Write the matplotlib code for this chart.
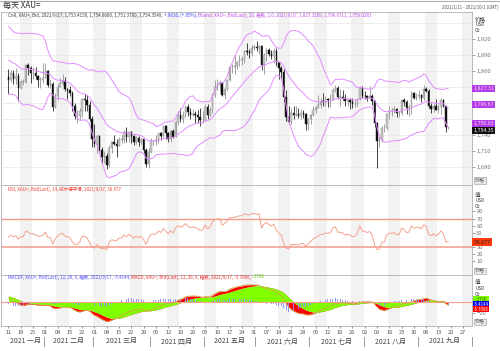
import numpy as np
import pandas as pd
import matplotlib
matplotlib.use('Agg')
import matplotlib.pyplot as plt
from matplotlib.transforms import blended_transform_factory as btf
from matplotlib.lines import Line2D

plt.rcParams['font.family'] = ['Noto Sans CJK SC', 'DejaVu Sans']

# ---------------- data (daily spot gold, XAU=) ----------------
# closes before the visible window (2020-11-02 .. 2021-01-08), used to seed the indicators
warmup_closes = [1895, 1908, 1904, 1948, 1951, 1862, 1877, 1866, 1873, 1888,
                 1887, 1878, 1871, 1866, 1871, 1837, 1805, 1809, 1811, 1788,
                 1776, 1815, 1830, 1841, 1839, 1862, 1871, 1839, 1836, 1839,
                 1827, 1854, 1861, 1886, 1881, 1873, 1862, 1871, 1876, 1877,
                 1878, 1893, 1895, 1943, 1950, 1918, 1913, 1849]

first_day = '2021-01-11'
last_axis_day = '2021-10-01'

opens = [1849, 1844, 1856, 1845, 1851, 1828, 1840, 1840, 1871, 1865,
         1856, 1856, 1850, 1843, 1844, 1847, 1860, 1834, 1835, 1793,
         1814, 1831, 1838, 1842, 1826, 1824, 1819, 1794, 1775, 1775,
         1784, 1808, 1806, 1797, 1770, 1733, 1723, 1737, 1711, 1698,
         1700, 1683, 1716, 1726, 1722, 1719, 1731, 1731, 1745, 1735,
         1745, 1738, 1726, 1734, 1726, 1732, 1712, 1685, 1708, 1728,
         1729, 1729, 1743, 1737, 1756, 1744, 1732, 1747, 1736, 1764,
         1777, 1770, 1778, 1793, 1783, 1777, 1780, 1778, 1773, 1768,
         1768, 1792, 1778, 1786, 1815, 1831, 1836, 1837, 1815, 1826,
         1843, 1867, 1868, 1870, 1877, 1881, 1882, 1898, 1896, 1895,
         1903, 1905, 1903, 1908, 1871, 1891, 1899, 1893, 1888, 1898,
         1877, 1866, 1858, 1812, 1773, 1764, 1782, 1778, 1779, 1776,
         1781, 1780, 1761, 1770, 1777, 1787, 1791, 1796, 1803, 1802,
         1808, 1805, 1808, 1824, 1829, 1812, 1812, 1810, 1803, 1806,
         1802, 1798, 1799, 1807, 1829, 1814, 1813, 1810, 1813, 1804,
         1763, 1729, 1731, 1752, 1753, 1779, 1786, 1787, 1788, 1781,
         1781, 1806, 1802, 1790, 1792, 1818, 1810, 1814, 1815, 1810,
         1827, 1823, 1795, 1788, 1795, 1787, 1793, 1805, 1794, 1753.42]

highs = [1864, 1863, 1862, 1865, 1857, 1843, 1846, 1873, 1875, 1870,
         1867, 1868, 1852, 1849, 1875, 1875, 1862, 1845, 1840, 1818,
         1836, 1848, 1855, 1849, 1829, 1832, 1822, 1800, 1787, 1790,
         1810, 1816, 1815, 1804, 1775, 1760, 1740, 1739, 1718, 1709,
         1705, 1720, 1728, 1739, 1732, 1735, 1740, 1750, 1755, 1747,
         1747, 1740, 1738, 1738, 1734, 1733, 1715, 1716, 1734, 1731,
         1739, 1744, 1746, 1759, 1758, 1746, 1749, 1751, 1766, 1784,
         1790, 1785, 1797, 1798, 1790, 1789, 1785, 1786, 1790, 1785,
         1799, 1798, 1792, 1818, 1843, 1845, 1843, 1840, 1829, 1845,
         1869, 1874, 1890, 1880, 1890, 1889, 1900, 1913, 1902, 1909,
         1911, 1916, 1910, 1909, 1895, 1903, 1904, 1900, 1903, 1903,
         1878, 1870, 1864, 1824, 1795, 1790, 1794, 1795, 1790, 1789,
         1787, 1781, 1772, 1779, 1795, 1795, 1815, 1809, 1818, 1814,
         1810, 1816, 1829, 1834, 1832, 1826, 1825, 1816, 1808, 1810,
         1810, 1806, 1810, 1832, 1832, 1823, 1815, 1832, 1816, 1805,
         1765, 1742, 1756, 1760, 1781, 1795, 1790, 1794, 1790, 1785,
         1808, 1809, 1805, 1799, 1823, 1821, 1819, 1824, 1817, 1834,
         1831, 1827, 1800, 1800, 1808, 1797, 1809, 1808, 1795, 1754.66]

lows = [1817, 1840, 1836, 1835, 1803, 1827, 1833, 1837, 1852, 1837,
        1846, 1845, 1831, 1829, 1837, 1847, 1830, 1829, 1785, 1791,
        1806, 1830, 1834, 1822, 1808, 1814, 1784, 1770, 1763, 1770,
        1774, 1785, 1785, 1766, 1717, 1718, 1705, 1709, 1687, 1687,
        1676, 1680, 1705, 1720, 1699, 1719, 1724, 1724, 1726, 1727,
        1725, 1721, 1723, 1719, 1722, 1705, 1680, 1677, 1706, 1720,
        1721, 1724, 1731, 1735, 1732, 1726, 1727, 1734, 1735, 1758,
        1765, 1762, 1773, 1776, 1769, 1775, 1762, 1763, 1757, 1763,
        1766, 1770, 1775, 1782, 1812, 1825, 1822, 1813, 1808, 1823,
        1841, 1857, 1855, 1864, 1869, 1872, 1876, 1891, 1884, 1888,
        1900, 1897, 1893, 1863, 1855, 1880, 1888, 1883, 1876, 1870,
        1845, 1847, 1802, 1767, 1761, 1760, 1770, 1775, 1772, 1770,
        1772, 1750, 1750, 1760, 1775, 1782, 1790, 1791, 1794, 1795,
        1792, 1793, 1805, 1820, 1808, 1794, 1806, 1795, 1794, 1789,
        1791, 1792, 1794, 1806, 1810, 1807, 1804, 1809, 1797, 1754,
        1677, 1718, 1726, 1745, 1750, 1769, 1775, 1781, 1774, 1773,
        1778, 1795, 1780, 1776, 1780, 1807, 1805, 1808, 1802, 1805,
        1821, 1791, 1782, 1783, 1786, 1781, 1780, 1792, 1745, 1751.37]

closes = [1844, 1856, 1845, 1851, 1828, 1840, 1840, 1871, 1865, 1856,
          1856, 1850, 1843, 1844, 1847, 1860, 1834, 1835, 1793, 1814,
          1831, 1838, 1842, 1826, 1824, 1819, 1794, 1775, 1775, 1784,
          1808, 1806, 1797, 1770, 1733, 1723, 1737, 1711, 1698, 1700,
          1683, 1716, 1726, 1722, 1719, 1731, 1731, 1745, 1735, 1745,
          1738, 1726, 1734, 1726, 1732, 1712, 1685, 1708, 1728, 1729,
          1729, 1743, 1737, 1756, 1744, 1732, 1747, 1736, 1764, 1777,
          1770, 1778, 1793, 1783, 1777, 1780, 1778, 1773, 1768, 1768,
          1792, 1778, 1786, 1815, 1831, 1836, 1837, 1815, 1826, 1843,
          1867, 1868, 1870, 1877, 1881, 1882, 1898, 1896, 1895, 1903,
          1905, 1903, 1908, 1871, 1891, 1899, 1893, 1888, 1898, 1877,
          1866, 1858, 1812, 1773, 1764, 1782, 1778, 1779, 1776, 1781,
          1780, 1761, 1770, 1777, 1787, 1791, 1796, 1803, 1802, 1808,
          1805, 1808, 1824, 1829, 1812, 1812, 1810, 1803, 1806, 1802,
          1798, 1799, 1807, 1829, 1814, 1813, 1810, 1813, 1804, 1763,
          1729, 1731, 1752, 1753, 1779, 1786, 1787, 1788, 1781, 1781,
          1806, 1802, 1790, 1792, 1818, 1810, 1814, 1815, 1810, 1827,
          1823, 1795, 1788, 1795, 1787, 1793, 1805, 1794, 1754, 1754.35]

# last values as printed on the chart's labels
bband_last = [1827.3109, 1796.6711, 1756.0283]
close_last = 1754.3549
rsi_last = 36.677
macd_last = [-0.3790, -5.4144, -5.7066]   # signal, MACDF, MACD

price_ticks = [1680, 1710, 1740, 1800, 1860, 1890, 1920]
rsi_ticks = [10, 20, 30, 40, 50, 60, 70, 80]
macd_ticks = [-20]
month_names = ['一月', '二月', '三月', '四月', '五月', '六月', '七月', '八月', '九月']

price_header = [("Cn8, XAU=, Bid, 2021/9/17, 1,753.4150, 1,754.6600, 1,751.3700, 1,754.3549, ", '#404040'),
                ("+.9616, (+.05%), ", '#3c3cff'),
                ("Bband, XAU=, Bid(Last), 20, 指数, 2.0, 2021/9/17, 1,827.3109, 1,796.6711, 1,756.0283", '#c048f0')]
rsi_header = [("RSI, XAU=, Bid(Last), 14, 威尔德平滑, 2021/9/17, 36.677", '#f04030')]
macd_header = [("MACDF, XAU=, Bid(Last), 12, 26, 9, 指数, 2021/9/17, -5.4144, ", '#5050ff'),
               ("MACD, XAU=, Bid(Last), 12, 26, 9, 指数, 2021/9/17, -5.7066, ", '#f03030'),
               ("-.3790", '#60d000')]

# ---------------- indicators ----------------
n = len(closes)
dates = pd.bdate_range(first_day, last_axis_day)
idx = np.arange(n)
allc = pd.Series(warmup_closes + closes, dtype=float)
mid = allc.ewm(span=20, adjust=False).mean()
sd = allc.rolling(20).std(ddof=0)
upper = (mid + 2 * sd).values[-n:]
lower = (mid - 2 * sd).values[-n:]
mid = mid.values[-n:]

delta = allc.diff()
gain = delta.clip(lower=0).ewm(alpha=1 / 14, adjust=False).mean()
loss = (-delta.clip(upper=0)).ewm(alpha=1 / 14, adjust=False).mean()
rsi = (100 - 100 / (1 + gain / loss)).values[-n:]

ema12 = allc.ewm(span=12, adjust=False).mean()
ema26 = allc.ewm(span=26, adjust=False).mean()
macd_s = ema12 - ema26
sig_s = macd_s.ewm(span=9, adjust=False).mean()
macd = macd_s.values[-n:]
sig = sig_s.values[-n:]
hist = macd - sig

# ---------------- figure ----------------
W, H = 500, 351
fig = plt.figure(figsize=(W / 100, H / 100), dpi=100)
fig.patch.set_facecolor('white')


def fx(px):
    return px / W


def fy(py):
    return 1 - py / H


L, R = 1, 472
ax1 = fig.add_axes([fx(L), fy(185), (R - L) / W, (185 - 12) / H])
ax2 = fig.add_axes([fx(L), fy(275), (R - L) / W, (275 - 185) / H])
ax3 = fig.add_axes([fx(L), fy(326), (R - L) / W, (326 - 275) / H])
xlim = (-3.05, 188.65)

for ax in (ax1, ax2, ax3):
    ax.set_xlim(*xlim)
    for k in range(0, 38):
        if k % 3 == 1:
            ax.axvspan(5 * k - 0.5, 5 * k + 4.5, color='#f2f2f2', lw=0, zorder=0)
    for s in ax.spines.values():
        s.set_color('#b0b0b0')
        s.set_linewidth(0.6)
    ax.yaxis.tick_right()
    ax.tick_params(axis='y', length=2.5, width=0.5, colors='#777777', labelsize=4.2, pad=0.6)
    ax.tick_params(axis='x', length=0)
    ax.set_xticks([])

# --- price panel ---
ax1.set_ylim(1645.5, 1971.4)
for p in range(1680, 1960, 30):
    ax1.axhline(p, color='#e6e6e6', lw=0.5, zorder=0.5)
o = np.array(opens); c = np.array(closes); h = np.array(highs); lo = np.array(lows)
up = c >= o
ax1.vlines(idx[up], lo[up], h[up], color='#8a8a8a', lw=0.55, zorder=2)
ax1.vlines(idx[~up], lo[~up], h[~up], color='#111111', lw=0.55, zorder=2)
bh = np.maximum(np.abs(c - o), 0.8)
ax1.bar(idx[up], bh[up], bottom=np.minimum(o, c)[up], width=0.62, color='#c8c8c8',
        edgecolor='#8a8a8a', linewidth=0.3, zorder=3)
ax1.bar(idx[~up], bh[~up], bottom=np.minimum(o, c)[~up], width=0.62, color='#111111',
        edgecolor='#111111', linewidth=0.3, zorder=3)
for band in (upper, mid, lower):
    ax1.plot(idx, band, color='#e08cff', lw=0.7, zorder=4)
ax1.set_yticks(price_ticks)
ax1.set_yticklabels([f'{t:,}' for t in price_ticks])

# --- RSI panel ---
ax2.set_ylim(-10.1, 117.5)
ax2.axhline(70, color='#f39a88', lw=1.0, zorder=2)
ax2.axhline(30, color='#f39a88', lw=1.1, zorder=2)
ax2.plot(idx, rsi, color='#f4a28e', lw=0.7, zorder=3)
ax2.set_yticks(rsi_ticks)

# --- MACD panel ---
ax3.set_ylim(-44.9, 50.5)
ax3.fill_between(idx, macd, sig, color='#ff0000', lw=0, zorder=1)
ax3.fill_between(idx, 0, sig, color='#80ff00', lw=0, zorder=2)
ax3.bar(idx, hist, width=0.35, color='#8c8cff', lw=0, zorder=3, alpha=0.9)
ax3.axhline(0, color='#f4a08a', lw=0.8, zorder=4)
ax3.plot(idx, macd, color='#d8a048', lw=0.6, zorder=5)
ax3.set_yticks(macd_ticks)

# x axis labels
mondays = [i for i, d in enumerate(dates) if d.weekday() == 0]
ax3.set_xticks(mondays)
ax3.set_xticklabels([dates[i].strftime('%d') for i in mondays])
ax3.tick_params(axis='x', length=1.5, width=0.5, colors='#555555', labelsize=4.1, pad=1.3)

tr = btf(ax3.transData, fig.transFigure)
months = dates.month
for m in range(1, 10):
    pos = np.where(months == m)[0]
    ax3.text((pos[0] + pos[-1]) / 2, fy(341), f'2021 {month_names[m - 1]}', transform=tr,
             ha='center', va='center', fontsize=5.0, color='#444444')
for m in range(2, 11):
    pos = np.where(months == m)[0]
    xb = pos[0] - 0.5
    fig.add_artist(Line2D([xb, xb], [fy(336.5), fy(345.5)], transform=tr, color='#888888', lw=0.6))

# ---------------- texts ----------------
fig.add_artist(Line2D([0, 1], [fy(0.6), fy(0.6)], color='#b0b0b0', lw=0.8))
fig.text(fx(3), fy(5.5), '每天 XAU=', fontsize=5.8, va='center', ha='left', color='#333333')
fig.text(fx(499), fy(7), '2021/1/11 - 2021/10/1 (GMT)', fontsize=3.1, va='center', ha='right', color='#555555')

renderer = fig.canvas.get_renderer()


def header(segs, x0, y0, fs):
    x = x0
    for s, col in segs:
        t = fig.text(fx(x), fy(y0), s, fontsize=fs, color=col, va='center', ha='left')
        x += t.get_window_extent(renderer).width


header(price_header, 8, 15, 3.25)
header(rsi_header, 8, 189, 3.25)
header(macd_header, 8, 277, 3.25)

for (ytop, first) in ((19, '价格'), (195, '值'), (282.5, '值')):
    fig.text(fx(475), fy(ytop), first, fontsize=4.0, ha='left', va='center', color='#333333')
    fig.text(fx(475), fy(ytop + 6.0), 'USD', fontsize=3.3, ha='left', va='center', color='#333333')
    fig.text(fx(475), fy(ytop + 11.6), 'Oz', fontsize=3.3, ha='left', va='center', color='#333333')
for yb in (180.5, 271, 322):
    fig.text(fx(475), fy(yb), '价格', fontsize=3.6, ha='left', va='center', color='#555555',
             bbox=dict(boxstyle='square,pad=0.15', fc='#e8e8e8', ec='#999999', lw=0.4))


def value_boxes(ax, items, gap=6.8, fs=3.8, pad=0.2):
    # items: (value, text, face, textcolor); spread to avoid overlap
    ys = []
    for v, *_ in items:
        _, ypx = ax.transData.transform((0, v))
        ys.append(H - ypx)
    order = np.argsort(ys)
    pos = np.array(ys, dtype=float)[order]
    for _ in range(60):
        for j in range(1, len(pos)):
            d = pos[j] - pos[j - 1]
            if d < gap:
                shift = (gap - d) / 2
                pos[j - 1] -= shift
                pos[j] += shift
    for k, j in enumerate(order):
        v, txt, fc, tc = items[j]
        fig.text(fx(473.5), fy(pos[k]), txt, fontsize=fs, ha='left', va='center', color=tc,
                 bbox=dict(boxstyle=f'square,pad={pad}', fc=fc, ec='none'))


value_boxes(ax1, [(bband_last[0], '1,827.31', '#b43ce6', '#f0d8ff'),
                  (bband_last[1], '1,796.67', '#b43ce6', '#f0d8ff'),
                  (bband_last[2], '1,756.03', '#b43ce6', '#f0d8ff'),
                  (close_last, '1,754.35', '#111111', '#ffffff')])
value_boxes(ax2, [(rsi_last, '36.677 ', '#ff3a10', '#222222')])
value_boxes(ax3, [(macd_last[0], '-.3790  ', '#80ff00', '#336600'),
                  (macd_last[1], '-5.4144', '#0000ee', '#ffffff'),
                  (macd_last[2], '-5.7066', '#ff0000', '#ffffff')], gap=5.0, fs=3.1, pad=0.15)

fig.savefig('out.png', dpi=100)
